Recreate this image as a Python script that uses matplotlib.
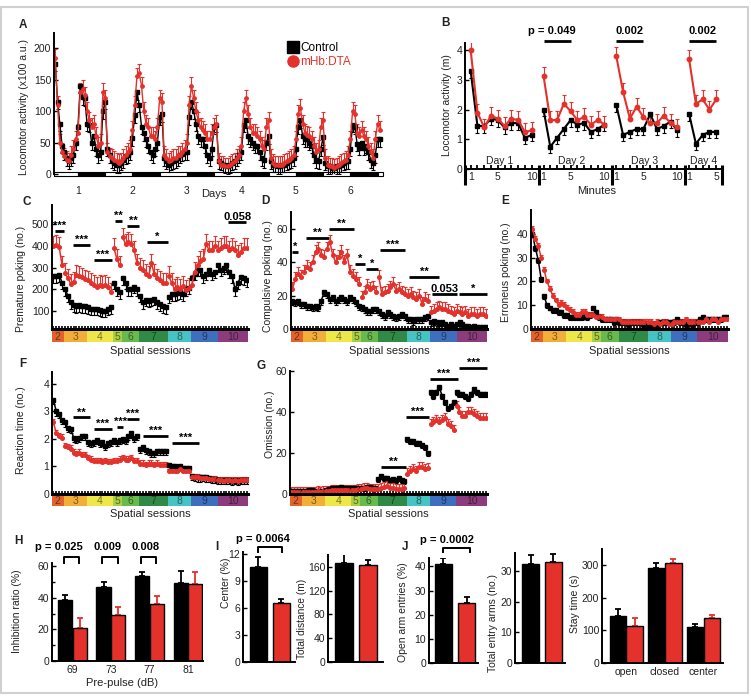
import numpy as np
import matplotlib
matplotlib.use("Agg")
import matplotlib.pyplot as plt
from matplotlib.lines import Line2D
from matplotlib.patches import Rectangle
from matplotlib.colors import to_rgb

plt.rcParams['font.family'] = ['Liberation Sans', 'DejaVu Sans']
plt.rcParams['font.size'] = 7.5

RED = '#e4312b'
INK = '#222222'

# ---------------- A: home cage activity, hourly (x100 a.u.) ----------------
# 10 h before day-1 dark onset, days 1-5 (24 h each), 14 h of day 6
a_ctrl = ([175, 115, 80, 45, 35, 25, 20, 25, 30, 50] +
          [75, 140, 122, 120, 80, 78, 50, 60, 40, 30, 35, 100,
           115, 40, 30, 22, 18, 14, 14, 18, 22, 28, 30, 35] +
          [57, 93, 130, 110, 75, 65, 55, 45, 35, 30, 40, 50,
           90, 95, 25, 20, 15, 18, 20, 22, 25, 30, 32, 35] +
          [35, 90, 115, 100, 80, 60, 55, 55, 45, 30, 25, 40,
           75, 78, 20, 18, 15, 14, 12, 14, 18, 20, 25, 30] +
          [35, 78, 85, 60, 55, 50, 45, 45, 35, 25, 22, 50,
           60, 20, 15, 15, 12, 12, 15, 15, 18, 20, 22, 25] +
          [40, 75, 85, 60, 55, 55, 50, 45, 30, 22, 20, 40,
           58, 18, 12, 12, 10, 10, 12, 12, 15, 18, 20, 20] +
          [40, 78, 75, 48, 42, 50, 42, 45, 35, 22, 18, 30, 55, 55])
a_dta = ([185, 110, 50, 35, 28, 22, 20, 30, 40, 55] +
         [65, 130, 135, 125, 100, 85, 75, 80, 60, 45, 50, 130,
          120, 35, 28, 25, 22, 20, 18, 20, 25, 30, 35, 40] +
         [70, 110, 155, 160, 140, 100, 80, 75, 60, 60, 55, 75,
          120, 115, 30, 25, 20, 22, 25, 25, 30, 30, 35, 40] +
         [50, 110, 140, 120, 100, 85, 75, 70, 65, 55, 55, 65,
          75, 80, 20, 15, 15, 12, 12, 15, 18, 20, 25, 30] +
         [45, 100, 120, 95, 75, 65, 65, 60, 55, 45, 40, 75,
          85, 25, 18, 15, 15, 15, 15, 18, 20, 22, 25, 30] +
         [55, 95, 105, 80, 65, 62, 60, 55, 45, 35, 40, 75,
          85, 25, 15, 12, 12, 10, 12, 15, 18, 20, 22, 30] +
         [55, 100, 95, 65, 60, 70, 60, 55, 45, 35, 25, 55, 80, 70])
a_err_ctrl = 12
a_err_dta = 14
a_days = [1, 2, 3, 4, 5, 6]

# ---------------- B: open field per minute, 4 days ----------------
b_ctrl = [[3.3, 1.45, 1.45, 1.7, 1.65, 1.4, 1.55, 1.55, 1.05, 1.15],
          [2.0, 0.75, 1.05, 1.35, 1.65, 1.5, 1.55, 1.25, 1.35, 1.5],
          [2.15, 1.15, 1.25, 1.35, 1.35, 1.85, 1.35, 1.45, 1.6, 1.3],
          [1.85, 0.85, 1.15, 1.25, 1.25]]
b_dta = [[4.0, 1.9, 1.4, 1.8, 1.7, 1.45, 1.7, 1.65, 1.25, 1.3],
         [3.15, 1.65, 1.65, 2.2, 1.95, 1.65, 1.75, 1.5, 1.65, 1.5],
         [3.8, 2.6, 1.7, 2.1, 1.75, 1.55, 1.55, 1.8, 1.55, 1.4],
         [3.7, 2.2, 2.35, 2.0, 2.35]]
b_err_ctrl = 0.22
b_err_dta = 0.3
b_pvals = ['p = 0.049', '0.002', '0.002']

# ---------------- spatial sessions ----------------
sessions = [2, 3, 4, 5, 6, 7, 8, 9, 10]
session_len = [4, 8, 9, 3, 6, 10, 8, 9, 11]
session_colors = ['#e2622a', '#f3ae37', '#efe64a', '#a9cf45', '#67bb4c',
                  '#2f8a45', '#47c3c3', '#3e6fbf', '#8c3c7c']

c_ctrl = [[260, 260, 265, 230],
          [200, 170, 140, 125, 120, 125, 120, 120],
          [115, 110, 110, 110, 105, 100, 100, 110, 115],
          [230, 200, 185],
          [250, 230, 200, 200, 210, 200],
          [170, 140, 150, 145, 150, 155, 140, 130, 120, 115],
          [165, 175, 175, 180, 185, 175, 200, 205],
          [250, 270, 290, 290, 260, 270, 290, 270, 280],
          [310, 290, 300, 310, 280, 260, 200, 230, 255, 250, 240]]
c_dta = [[400, 405, 395, 310],
         [275, 250, 225, 235, 265, 260, 255, 245],
         [240, 230, 220, 210, 220, 215, 220, 210, 185],
         [390, 340, 310],
         [440, 410, 420, 410, 380, 320],
         [300, 290, 270, 260, 320, 270, 250, 240, 230, 230],
         [260, 230, 200, 210, 200, 215, 195, 205],
         [220, 280, 310, 330, 340, 410, 380, 380, 400],
         [380, 390, 400, 400, 380, 390, 380, 360, 370, 390, 390]]
c_sig_span = [(0.6, 3.5), (6.8, 12.7), (13.9, 20.2), (21.4, 23.7),
              (25.4, 29.8), (32.3, 39.8), (60.6, 66.9)]
c_sig_y = [470, 405, 335, 516, 494, 420, 510]
c_sig_text = ['***', '***', '***', '**', '**', '*', '0.058']

d_ctrl = [[17, 16, 17, 15],
          [15, 14, 14, 13, 14, 13, 17, 22],
          [21, 18, 19, 17, 18, 19, 18, 17, 19],
          [18, 16, 14],
          [13, 12, 11, 11, 12, 12],
          [11, 9, 8, 10, 9, 8, 7, 8, 9, 8],
          [6, 6, 5, 6, 6, 6, 7, 8],
          [4, 5, 4, 3, 4, 3, 2, 3, 2],
          [3, 4, 3, 2, 2, 1, 2, 1, 1, 1, 1]]
d_dta = [[24, 30, 33, 31],
         [34, 37, 36, 40, 46, 48, 44, 43],
         [48, 52, 44, 40, 43, 46, 40, 44, 34],
         [32, 30, 27],
         [19, 22, 26, 24, 25, 22],
         [31, 21, 22, 23, 25, 27, 23, 24, 22, 21],
         [20, 21, 19, 18, 20, 15, 18, 17],
         [10, 11, 12, 13, 12, 12, 11, 10, 9],
         [11, 10, 9, 10, 8, 9, 9, 8, 9, 9, 8]]
d_sig_span = [(0.0, 2.0), (4.6, 12.7), (12.7, 21.4), (21.7, 25.2), (25.6, 29.6),
              (30.4, 39.1), (40.3, 51.0), (48.4, 57.1), (57.7, 67.5)]
d_sig_y = [46, 54.5, 60, 39, 36, 47.5, 31, 21, 21]
d_sig_text = ['*', '**', '**', '*', '*', '***', '**', '0.053', '*']

e_ctrl = [[40, 34, 29, 21],
          [14, 10, 9, 8, 8, 7, 7, 6],
          [6, 5, 5, 5, 5, 5, 6, 5, 6],
          [9, 7, 5],
          [4, 4, 4, 4, 3, 4],
          [3, 3, 3, 2, 3, 3, 3, 3, 2, 2],
          [2, 2, 2, 2, 3, 3, 3, 3],
          [3, 3, 4, 3, 3, 2, 3, 2, 3],
          [3, 4, 5, 4, 4, 4, 4, 4, 4, 5, 5]]
e_dta = [[42, 38, 35, 30],
         [25, 20, 17, 14, 12, 10, 11, 10],
         [9, 8, 7, 6, 6, 7, 7, 6, 6],
         [6, 5, 5],
         [5, 4, 4, 4, 4, 4],
         [4, 3, 3, 3, 3, 3, 3, 3, 3, 3],
         [3, 3, 2, 3, 2, 3, 3, 2],
         [2, 3, 3, 3, 3, 4, 3, 3, 3],
         [3, 3, 3, 4, 3, 4, 4, 3, 4, 4, 4]]

f_ctrl = [[3.4, 3.0, 2.9, 2.7],
          [2.6, 2.4, 2.35, 2.05, 2.0, 2.05, 2.1, 2.1],
          [1.9, 1.85, 1.9, 1.95, 1.85, 1.9, 1.75, 1.85, 1.9],
          [1.95, 1.9, 1.95],
          [2.0, 1.95, 2.1, 2.2, 2.05, 2.1],
          [1.65, 1.7, 1.6, 1.55, 1.5, 1.5, 1.55, 1.55, 1.55, 1.55],
          [1.05, 1.0, 1.0, 0.95, 1.0, 0.95, 0.95, 0.95],
          [0.65, 0.62, 0.6, 0.6, 0.62, 0.6, 0.58, 0.55, 0.55],
          [0.52, 0.5, 0.5, 0.5, 0.5, 0.48, 0.5, 0.48, 0.5, 0.52, 0.5]]
f_dta = [[2.6, 2.2, 2.1, 2.05],
         [1.75, 1.7, 1.65, 1.5, 1.45, 1.5, 1.4, 1.4],
         [1.3, 1.25, 1.2, 1.2, 1.2, 1.15, 1.2, 1.15, 1.15],
         [1.2, 1.2, 1.25],
         [1.3, 1.25, 1.25, 1.3, 1.2, 1.2],
         [1.1, 1.1, 1.05, 1.1, 1.1, 1.05, 1.1, 1.05, 1.05, 1.05],
         [0.85, 0.85, 0.85, 0.85, 0.9, 0.85, 0.85, 0.85],
         [0.62, 0.6, 0.6, 0.58, 0.58, 0.57, 0.55, 0.55, 0.55],
         [0.5, 0.5, 0.48, 0.5, 0.5, 0.48, 0.5, 0.48, 0.5, 0.5, 0.5]]
f_sig_span = [(6.8, 12.7), (14.1, 20.2), (22.0, 24.3), (25.4, 29.8),
              (31.2, 39.8), (41.0, 50.4)]
f_sig_y = [2.78, 2.36, 2.44, 2.74, 2.12, 1.84]
f_sig_text = ['**', '***', '***', '***', '***', '***']

g_ctrl = [[1.5, 1.5, 1.5, 1.5],
          [1.5, 1.5, 2, 2, 1.5, 1.5, 1.5, 1.5],
          [2, 2.5, 3, 3, 3, 3.5, 3, 3, 3],
          [3, 3, 3],
          [3, 3, 3.5, 3.5, 3, 3],
          [7.5, 9, 8, 8, 7, 7.5, 7, 8, 7, 6.5],
          [27, 26, 26, 25, 25, 24, 23, 20],
          [50, 48, 50, 52, 48, 45, 42, 43, 45],
          [50, 49, 49, 48, 47, 49, 51, 50, 49, 49, 49]]
g_dta = [[1, 1, 1, 1],
         [1, 1, 1, 1, 1, 1.5, 1, 1.5],
         [1.5, 1.5, 2, 2, 2, 2, 2, 2, 2],
         [2, 2, 2.5],
         [2.5, 3, 3, 2.5, 2.5, 2.5],
         [2.5, 3, 3.5, 4, 3, 3, 2.5, 2.5, 2.5, 3],
         [10, 11, 12, 11, 13, 13, 12, 12.5],
         [34, 35, 36, 35, 36, 37, 34, 33, 31],
         [43, 40, 38, 38, 40, 40, 39, 38, 37, 37, 37]]
g_sig_span = [(30.8, 39.7), (39.7, 47.5), (47.8, 57.4), (57.9, 67.5)]
g_sig_y = [13.4, 37.6, 56, 61.4]
g_sig_text = ['**', '***', '***', '***']

# ---------------- H-J: bar graphs ----------------
h_labels = ['69', '73', '77', '81']
h_ctrl = [38.5, 47, 53.5, 49.5]
h_dta = [21, 29, 36, 49]
h_ctrl_err = [3, 3, 3, 7.5]
h_dta_err = [6, 5, 5, 7.5]
h_pvals = ['p = 0.025', '0.009', '0.008']

i_center = [10.5, 6.5]
i_center_err = [1.2, 0.5]
i_dist = [167, 164]
i_dist_err = [16, 8]

j_open = [41, 25]
j_open_err = [2.5, 2.5]
j_entries = [32.5, 33.2]
j_entries_err = [3, 2.5]
j_stay_labels = ['open', 'closed', 'center']
j_stay_ctrl = [145, 293, 110]
j_stay_dta = [115, 307, 137]
j_stay_ctrl_err = [20, 15, 10]
j_stay_dta_err = [22, 12, 10]

# ---------------------------------------------------------------------------
W, H = 751, 696
fig = plt.figure(figsize=(W / 100, H / 100), dpi=100)


def add_ax(l, t, r, b):
    return fig.add_axes([l / W, 1 - b / H, (r - l) / W, (b - t) / H])


def ftext(x, y, s, **kw):
    kw.setdefault('ha', 'center')
    kw.setdefault('va', 'center')
    kw.setdefault('color', INK)
    return fig.text(x / W, 1 - y / H, s, **kw)


def style(ax):
    for s in ('top', 'right'):
        ax.spines[s].set_visible(False)
    for s in ('left', 'bottom'):
        ax.spines[s].set_linewidth(1.4)
    ax.tick_params(direction='in', length=3, width=1, labelsize=7.5, pad=2,
                   labelcolor=INK)


def series(ax, x, y, err, color, marker, down, ms=2.6, lw=1.1):
    y = np.asarray(y, float)
    z = np.zeros_like(y)
    e = np.full_like(y, err) if np.isscalar(err) else np.asarray(err, float)
    yerr = [e, z] if down else [z, e]
    ax.errorbar(x, y, yerr=yerr, color=color, marker=marker, ms=ms, lw=lw,
                mec=color, elinewidth=0.8, capsize=1.2, capthick=0.8)


def sig(ax, x0, x1, y, label, lw=2):
    ax.plot([x0, x1], [y, y], color='k', lw=lw, clip_on=False,
            solid_capstyle='butt')
    ax.annotate(label, xy=((x0 + x1) / 2, y), xytext=(0, 1.5),
                textcoords='offset points', ha='center', va='baseline',
                fontsize=8, fontweight='bold', annotation_clip=False)


def session_panel(rect, ctrl, dta, ylim, yticks, err_c, err_d):
    ax = add_ax(*rect)
    style(ax)
    start = 0
    for cs, ds, n in zip(ctrl, dta, session_len):
        xs = np.arange(start, start + n)
        series(ax, xs, cs, err_c, 'k', 's', True)
        series(ax, xs, ds, err_d, RED, 'o', False)
        start += n
    ax.set_xlim(-0.5, start - 0.5)
    ax.set_ylim(*ylim)
    ax.set_yticks(yticks)
    ax.set_xticks(np.arange(start))
    ax.tick_params(axis='x', length=2.5, width=1.2, labelbottom=False)
    ax.spines['bottom'].set_linewidth(2.2)
    return ax


def session_band(l, r, t, b, label_y):
    bx = add_ax(l, t, r, b)
    x0 = -0.5
    for n, c, lab in zip(session_len, session_colors, sessions):
        bx.add_patch(Rectangle((x0, 0), n, 1, color=c, lw=0))
        dark = tuple(v * 0.5 for v in to_rgb(c))
        bx.text(x0 + n / 2, 0.45, str(lab), ha='center', va='center',
                fontsize=7.5, color=dark)
        x0 += n
    bx.set_xlim(-0.5, x0 - 0.5)
    bx.set_ylim(0, 1)
    bx.axis('off')
    ftext((l + r) / 2, label_y, 'Spatial sessions', fontsize=8)


def bars(ax, x, vals, errs, color, width):
    ax.bar(x, vals, width=width, color=color, edgecolor='k', lw=1, zorder=2)
    ax.errorbar(x, vals, yerr=[np.zeros(len(vals)), errs], fmt='none',
                ecolor='k' if color == 'k' else RED, elinewidth=1.3,
                capsize=2.5, capthick=1.3, zorder=1)


def bracket(ax, x0, x1, y0, y1):
    ax.plot([x0, x0, x1, x1], [y0, y1, y1, y0], color='k', lw=1.4,
            clip_on=False)


# ---------------- panel A ----------------
axA = add_ax(54, 33, 383, 174)
style(axA)
axA.spines['bottom'].set_visible(False)
a_x = 1 + (np.arange(len(a_ctrl)) - 10) / 24
series(axA, a_x, a_ctrl, a_err_ctrl, 'k', 's', True, ms=2.4, lw=1.0)
series(axA, a_x, a_dta, a_err_dta, RED, 'o', False, ms=2.4, lw=1.0)
axA.set_xlim(0.56, 6.6)
axA.set_ylim(0, 224)
axA.set_yticks([0, 50, 100, 150, 200])
axA.set_xticks(a_days)
axA.tick_params(axis='x', length=0, pad=9)
for d in range(0, 7):
    for x0, x1, fc in ((d, d + 0.5, 'k'), (d + 0.5, d + 1, 'w')):
        lo, hi = max(x0, 0.56), min(x1, 6.6)
        if hi > lo:
            axA.add_patch(Rectangle((lo, -3.5), hi - lo, 6.5, facecolor=fc,
                                    edgecolor='k', lw=0.8, clip_on=False))
leg = axA.legend(handles=[Line2D([], [], color='k', marker='s', ls='none', ms=8),
                          Line2D([], [], color=RED, marker='o', ls='none', ms=8)],
                 labels=['Control', 'mHb:DTA'], loc='upper left',
                 bbox_to_anchor=(281 / W, 1 - 36 / H), bbox_transform=fig.transFigure,
                 frameon=False, handletextpad=0.1, labelspacing=0.15,
                 borderpad=0, handlelength=1.0, fontsize=8.5)
for t, c in zip(leg.get_texts(), ['k', RED]):
    t.set_color(c)
ftext(24, 107, 'Locomotor activity (x100 a.u.)', rotation=90, fontsize=7.5)
ftext(214, 194, 'Days', fontsize=8)
ftext(23, 25, 'A', fontsize=8.5, fontweight='bold')

# ---------------- panel B ----------------
axB = add_ax(465, 43, 722, 169)
style(axB)
day_off = 10.75
ticks, tlabels = [], []
for d, (cs, ds) in enumerate(zip(b_ctrl, b_dta)):
    xs = d * day_off + np.arange(1, len(cs) + 1)
    series(axB, xs, cs, b_err_ctrl, 'k', 's', True, ms=3.4, lw=1.5)
    series(axB, xs, ds, b_err_dta, RED, 'o', False, ms=3.2, lw=1.5)
    for m, x in zip(range(1, len(cs) + 1), xs):
        ticks.append(x)
        tlabels.append(str(m) if m in (1, 5, 10) else '')
    axB.text(d * day_off + (5.2 if len(cs) == 10 else 3.1), 0.28,
             'Day %d' % (d + 1), ha='center', va='center', fontsize=7.5,
             color=INK)
    if d > 0:
        bx0, bx1 = xs[0], xs[4]
        sig(axB, bx0, bx1, 4.33, '')
        axB.text((bx0 + bx1) / 2 - (0.8 if d == 1 else 0), 4.48,
                 b_pvals[d - 1], ha='center', va='bottom', fontsize=8,
                 fontweight='bold')
b_xlim = (0.16, 38.1)
axB.set_xlim(*b_xlim)
axB.set_ylim(0, 4.25)
axB.set_yticks([0, 1, 2, 3, 4])
axB.set_xticks(ticks)
axB.set_xticklabels(tlabels)
axB.tick_params(axis='x', length=3, width=1.3, pad=2)
for x in [b_xlim[0], day_off + 0.35, 2 * day_off + 0.35, 3 * day_off + 0.35, b_xlim[1]]:
    axB.plot([x, x], [-0.55, 0.12], color='k', lw=2.2, clip_on=False,
             solid_capstyle='butt')
ftext(447, 105, 'Locomotor activity (m)', rotation=90, fontsize=7.5)
ftext(597, 191, 'Minutes', fontsize=8)
ftext(445, 23, 'B', fontsize=8.5, fontweight='bold')

# ---------------- panels C-G ----------------
axC = session_panel((52, 205, 248, 329), c_ctrl, c_dta, (15, 590),
                    [100, 200, 300, 400, 500], 30, 45)
for (x0, x1), y, s in zip(c_sig_span, c_sig_y, c_sig_text):
    sig(axC, x0, x1, y, s)
session_band(52, 248, 331, 342, 351)
ftext(21, 279, 'Premature poking (no.)', rotation=90)
ftext(27, 202, 'C', fontsize=8.5, fontweight='bold')

axD = session_panel((291, 212, 487, 329), d_ctrl, d_dta, (0, 70),
                    [0, 20, 40, 60], 2.5, 4)
for (x0, x1), y, s in zip(d_sig_span, d_sig_y, d_sig_text):
    sig(axD, x0, x1, y, s)
session_band(291, 487, 331, 342, 351)
ftext(268, 276, 'Compulsive poking (no.)', rotation=90)
ftext(265, 201, 'D', fontsize=8.5, fontweight='bold')

axE = session_panel((531, 210, 728, 329), e_ctrl, e_dta, (0, 50),
                    [0, 10, 20, 30, 40], 1.2, 1.2)
session_band(531, 728, 331, 342, 351)
ftext(506, 272, 'Erroneus poking (no.)', rotation=90)
ftext(505, 201, 'E', fontsize=8.5, fontweight='bold')

axF = session_panel((52, 372, 248, 494), f_ctrl, f_dta, (0, 4.43),
                    [0, 1, 2, 3, 4], 0.15, 0.12)
for (x0, x1), y, s in zip(f_sig_span, f_sig_y, f_sig_text):
    sig(axF, x0, x1, y, s)
session_band(52, 248, 496, 506, 514)
ftext(21, 430, 'Reaction time (no.)', rotation=90)
ftext(23, 364, 'F', fontsize=8.5, fontweight='bold')

axG = session_panel((290, 371, 487, 494), g_ctrl, g_dta, (0, 60),
                    [0, 20, 40, 60], 1.5, 2.5)
for (x0, x1), y, s in zip(g_sig_span, g_sig_y, g_sig_text):
    sig(axG, x0, x1, y, s)
session_band(290, 487, 496, 506, 514)
ftext(270, 424, 'Omission (no.)', rotation=90)
ftext(261, 366, 'G', fontsize=8.5, fontweight='bold')

# ---------------- panel H ----------------
axH = add_ax(52, 563, 203, 661)
style(axH)
hx = np.arange(len(h_labels))
bars(axH, hx - 0.19, h_ctrl, h_ctrl_err, 'k', 0.37)
bars(axH, hx + 0.19, h_dta, h_dta_err, RED, 0.37)
axH.set_xlim(-0.53, 3.39)
axH.set_ylim(0, 62)
axH.set_yticks([0, 20, 40, 60])
axH.set_yticks([10, 30, 50], minor=True)
axH.tick_params(axis='y', which='minor', direction='in', length=2, width=1)
axH.set_xticks(hx)
axH.set_xticklabels(h_labels)
axH.tick_params(axis='x', length=0, pad=3)
for g, p in zip(hx[:3], h_pvals):
    bracket(axH, g - 0.22, g + 0.18, 61.7, 65.5)
    axH.text(g + 0.27, 69, p, ha='right', va='bottom', fontsize=8,
             fontweight='bold')
ftext(17, 611, 'Inhibition ratio (%)', rotation=90)
ftext(122, 683, 'Pre-pulse (dB)', fontsize=8)
ftext(18, 541, 'H', fontsize=8.5, fontweight='bold')

# ---------------- panel I ----------------
axI1 = add_ax(243, 552, 295, 662)
style(axI1)
bars(axI1, [0, 1], i_center, i_center_err, 'k', 0.75)
axI1.patches[1].set_facecolor(RED)
axI1.set_xlim(-0.67, 1.61)
axI1.set_ylim(0, 12.2)
axI1.set_yticks([0, 3, 6, 9, 12])
axI1.set_xticks([])
bracket(axI1, 0.0, 1.05, 12.2, 12.7)
axI1.text(1.4, 13.1, 'p = 0.0064', ha='right', va='bottom', fontsize=8,
          fontweight='bold')
ftext(226, 583, 'Center (%)', rotation=90)
ftext(217, 547, 'I', fontsize=8.5, fontweight='bold')

axI2 = add_ax(328, 555, 383, 662)
style(axI2)
bars(axI2, [0, 1], i_dist, i_dist_err, 'k', 0.72)
axI2.patches[1].set_facecolor(RED)
axI2.set_xlim(-0.64, 1.6)
axI2.set_ylim(0, 180)
axI2.set_yticks([0, 40, 80, 120, 160])
axI2.set_xticks([])
ftext(302, 619, 'Total distance (m)', rotation=90, fontsize=7.3)

# ---------------- panel J ----------------
axJ1 = add_ax(429, 558, 478, 663)
style(axJ1)
bars(axJ1, [0, 1], j_open, j_open_err, 'k', 0.73)
axJ1.patches[1].set_facecolor(RED)
axJ1.set_xlim(-0.62, 1.48)
axJ1.set_ylim(0, 43.5)
axJ1.set_yticks([0, 10, 20, 30, 40])
axJ1.set_xticks([])
bracket(axJ1, 0.0, 1.12, 46, 47.6)
axJ1.text(1.3, 49, 'p = 0.0002', ha='right', va='bottom', fontsize=8,
          fontweight='bold')
ftext(403, 612, 'Open arm entries (%)', rotation=90)
ftext(405, 547, 'J', fontsize=8.5, fontweight='bold')

axJ2 = add_ax(515, 553, 565, 663)
style(axJ2)
bars(axJ2, [0, 1], j_entries, j_entries_err, 'k', 0.75)
axJ2.patches[1].set_facecolor(RED)
axJ2.set_xlim(-0.68, 1.51)
axJ2.set_ylim(0, 36)
axJ2.set_yticks([0, 10, 20, 30])
axJ2.set_xticks([])
ftext(493, 623, 'Total entry arms (no.)', rotation=90)

axJ3 = add_ax(602, 549, 723, 663)
style(axJ3)
jx = np.arange(len(j_stay_labels))
bars(axJ3, jx - 0.22, j_stay_ctrl, j_stay_ctrl_err, 'k', 0.43)
bars(axJ3, jx + 0.22, j_stay_dta, j_stay_dta_err, RED, 0.43)
axJ3.set_xlim(-0.63, 2.51)
axJ3.set_ylim(0, 350)
axJ3.set_yticks([0, 100, 200, 300])
axJ3.set_xticks(jx)
axJ3.set_xticklabels(j_stay_labels)
axJ3.tick_params(axis='x', length=0, pad=3)
ftext(575, 604, 'Stay time (s)', rotation=90)

# light frame around the figure
fig.add_artist(Rectangle((1 / W, 3 / H), 747 / W, 686 / H, transform=fig.transFigure,
                         fill=False, edgecolor='#d0d0d0', lw=1.5))

fig.savefig('out.png', dpi=100)
